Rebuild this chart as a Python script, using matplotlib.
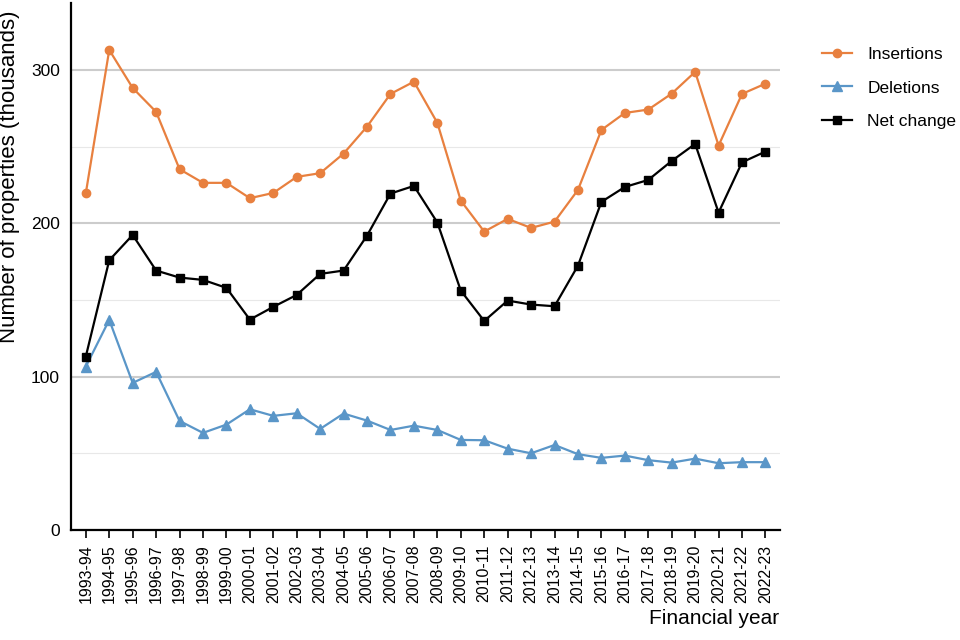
import numpy as np
import matplotlib
matplotlib.use('Agg')
import matplotlib.pyplot as plt
from matplotlib.ticker import MultipleLocator

plt.rcParams['font.family'] = ['Liberation Sans', 'DejaVu Sans']

# Data (thousands of properties)
years = ['1993-94', '1994-95', '1995-96', '1996-97', '1997-98', '1998-99', '1999-00',
         '2000-01', '2001-02', '2002-03', '2003-04', '2004-05', '2005-06', '2006-07',
         '2007-08', '2008-09', '2009-10', '2010-11', '2011-12', '2012-13', '2013-14',
         '2014-15', '2015-16', '2016-17', '2017-18', '2018-19', '2019-20', '2020-21',
         '2021-22', '2022-23']
insertions = [219.6, 313.1, 288.3, 272.7, 235.3, 226.4, 226.4, 216.4, 219.8, 230.3,
              232.7, 245.5, 263.1, 284.4, 292.4, 265.5, 214.8, 194.6, 202.9, 197.0,
              201.1, 221.8, 260.9, 272.0, 274.2, 284.6, 298.8, 250.7, 284.4, 291.1]
deletions = [106.5, 137.0, 95.9, 103.1, 71.1, 63.3, 68.7, 78.7, 74.4, 76.1,
             65.9, 75.9, 71.3, 65.2, 68.0, 65.2, 58.7, 58.5, 53.0, 50.0,
             55.4, 49.4, 47.0, 48.5, 45.5, 43.9, 46.5, 43.5, 44.2, 44.2]
net_change = [113.1, 175.9, 192.4, 169.2, 164.6, 163.1, 157.9, 137.2, 145.5, 153.3,
              167.0, 169.2, 192.0, 219.4, 224.4, 200.5, 156.1, 136.3, 149.6, 147.0,
              145.9, 172.4, 214.0, 223.7, 228.3, 240.7, 251.8, 207.0, 239.8, 246.8]

orange = '#E8803F'
blue = '#5A96C8'

fig = plt.figure(figsize=(9.6, 6.4), dpi=100)
ax = fig.add_axes([0.074, 0.172, 0.738, 0.824])

x = np.arange(len(years))
ax.plot(x, insertions, color=orange, marker='o', markersize=6, linewidth=1.6, label='Insertions')
ax.plot(x, deletions, color=blue, marker='^', markersize=7, linewidth=1.6, label='Deletions')
ax.plot(x, net_change, color='black', marker='s', markersize=6, linewidth=1.6, label='Net change')

ax.set_xlim(-0.63, 29.6)
ax.set_ylim(0, 344)
ax.set_xticks(x)
ax.set_xticklabels(years, rotation=90, fontsize=11.5)
ax.yaxis.set_major_locator(MultipleLocator(100))
ax.yaxis.set_minor_locator(MultipleLocator(50))
ax.tick_params(axis='y', which='both', length=0, labelsize=12.5, pad=8)
ax.tick_params(axis='x', length=5.5, width=1.2, labelsize=11.5, pad=5)

ax.grid(axis='y', which='major', color='#cccccc', linewidth=1.5)
ax.grid(axis='y', which='minor', color='#e8e8e8', linewidth=0.8)
ax.set_axisbelow(True)

for s in ['top', 'right']:
    ax.spines[s].set_visible(False)
for s in ['left', 'bottom']:
    ax.spines[s].set_linewidth(1.6)

ax.set_ylabel('Number of properties (thousands)', fontsize=16)
ax.yaxis.set_label_coords(-0.072, 0.67)
ax.set_xlabel('Financial year', fontsize=15, loc='right')

ax.legend(loc='upper left', bbox_to_anchor=(0.84, 0.951), bbox_transform=fig.transFigure,
          frameon=False, fontsize=12.5, handlelength=1.7, handletextpad=0.9, labelspacing=1.05)

fig.savefig('out.png', dpi=100)
